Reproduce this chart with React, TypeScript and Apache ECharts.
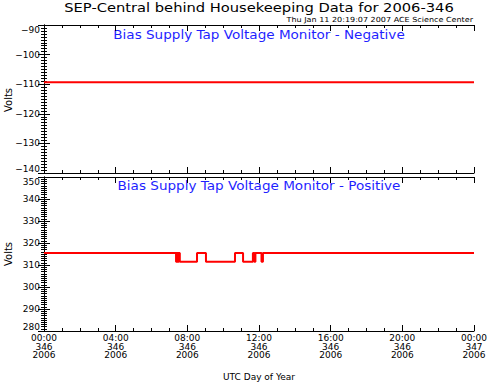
import React, { useEffect, useRef } from "react";
import * as echarts from "echarts";

// ---- data ----
const negTimes = [0, 24];
const negValues = [-109.3, -109.3];

const posTimes = [0, 7.37, 7.42, 7.47, 7.52, 7.58, 8.54, 9.04, 10.66, 11.11, 11.66, 11.74, 11.8, 12.14, 12.22, 24];
const posValues = [315.5, 311.5, 315.5, 311.5, 315.5, 311.5, 315.5, 311.5, 315.5, 311.5, 315.5, 311.5, 315.5, 311.5, 315.5, 315.5];

const xTickTimes = ["00:00", "04:00", "08:00", "12:00", "16:00", "20:00", "00:00"];
const xTickDays = ["346", "346", "346", "346", "346", "346", "347"];
const xTickYears = ["2006", "2006", "2006", "2006", "2006", "2006", "2006"];

const titleText = "SEP-Central behind Housekeeping Data for 2006-346";
const subtitleText = "Thu Jan 11 20:19:07 2007 ACE Science Center";
const panelTitles = ["Bias Supply Tap Voltage Monitor - Negative", "Bias Supply Tap Voltage Monitor - Positive"];
const yAxisTitle = "Volts";

const FONT = "DejaVu Sans, Verdana, sans-serif";
const BLUE = "#1f1fff";

export default function App() {
  const ref = useRef<HTMLDivElement>(null);
  useEffect(() => {
    document.body.style.margin = "0";
    const chart = echarts.init(ref.current!, undefined, { renderer: "svg" });
    const grids = [
      { left: 44, top: 25, width: 430, height: 148, outerBoundsMode: "none", containLabel: false },
      { left: 44, top: 177, width: 430, height: 154, outerBoundsMode: "none", containLabel: false },
    ];
    const baseAxisLine = { show: true, lineStyle: { color: "#000", width: 1 } };
    const mkX = (gi: number, pos: "bottom" | "top", labels: boolean) => ({
      type: "value",
      gridIndex: gi,
      position: pos,
      min: 0,
      max: 24,
      interval: 4,
      axisLine: baseAxisLine,
      axisTick: { show: true, inside: true, length: 6, lineStyle: { color: "#000" } },
      minorTick: { show: true, splitNumber: 4, length: 3, lineStyle: { color: "#000" } },
      splitLine: { show: false },
      axisLabel: labels
        ? {
            show: true,
            fontFamily: FONT,
            fontSize: 9,
            color: "#000",
            lineHeight: 8.5,
            margin: 3,
            formatter: (v: number) => {
              const i = Math.round(v / 4);
              return `${xTickTimes[i]}\n${xTickDays[i]}\n${xTickYears[i]}`;
            },
          }
        : { show: false },
      name: labels ? "UTC Day of Year" : "",
      nameLocation: "middle",
      nameGap: 41,
      nameTextStyle: { fontFamily: FONT, fontSize: 9, color: "#000" },
    });
    const mkY = (
      gi: number,
      pos: "left" | "right",
      min: number,
      max: number,
      labels: boolean,
      vMin: string,
      vMax: string
    ) => ({
      type: "value",
      gridIndex: gi,
      position: pos,
      min,
      max,
      interval: 10,
      axisLine: baseAxisLine,
      axisTick: { show: true, inside: true, length: 6, lineStyle: { color: "#000" } },
      minorTick: { show: true, splitNumber: 10, length: 3, lineStyle: { color: "#000" } },
      splitLine: { show: false },
      axisLabel: labels
        ? {
            show: true,
            fontFamily: FONT,
            fontSize: 9,
            color: "#000",
            margin: 4,
            verticalAlignMinLabel: vMin,
            verticalAlignMaxLabel: vMax,
            formatter: (v: number) => (v < 0 ? "\u2212" + Math.abs(v) : String(v)),
          }
        : { show: false },
    });
    const txt = (
      text: string,
      x: number,
      y: number,
      size: number,
      color: string,
      align: string,
      sx: number,
      vAlign = "top",
      rotation = 0
    ) => ({
      type: "text",
      x,
      y,
      scaleX: sx,
      rotation,
      style: {
        text,
        fontFamily: FONT,
        fontSize: size,
        fill: color,
        align,
        textAlign: align,
        verticalAlign: vAlign,
        textVerticalAlign: vAlign,
      },
    });
    chart.setOption({
      animation: false,
      backgroundColor: "#fff",
      graphic: [
        txt(titleText, 259, 1, 13, "#000", "center", 1.13),
        txt(subtitleText, 473, 16, 7, "#000", "right", 1.15),
        txt(panelTitles[0], 259, 29, 12, BLUE, "center", 1.13),
        txt(panelTitles[1], 259, 180, 12, BLUE, "center", 1.13),
        txt(yAxisTitle, 8, 100, 10, "#000", "center", 1, "middle", Math.PI / 2),
        txt(yAxisTitle, 8, 254, 10, "#000", "center", 1, "middle", Math.PI / 2),
      ],
      grid: grids,
      xAxis: [mkX(0, "bottom", false), mkX(0, "top", false), mkX(1, "bottom", true), mkX(1, "top", false)],
      yAxis: [
        mkY(0, "left", -140, -90, true, "bottom", "top"),
        mkY(0, "right", -140, -90, false, "middle", "middle"),
        mkY(1, "left", 280, 350, true, "bottom", "top"),
        mkY(1, "right", 280, 350, false, "middle", "middle"),
      ],
      series: [
        {
          type: "line",
          xAxisIndex: 0,
          yAxisIndex: 0,
          data: negTimes.map((t, i) => [t, negValues[i]]),
          showSymbol: false,
          lineStyle: { color: "#ff0000", width: 2 },
        },
        {
          type: "line",
          xAxisIndex: 2,
          yAxisIndex: 2,
          step: "end",
          data: posTimes.map((t, i) => [t, posValues[i]]),
          showSymbol: false,
          lineStyle: { color: "#ff0000", width: 2 },
        },
      ],
    });
    return () => chart.dispose();
  }, []);
  return <div ref={ref} style={{ position: "fixed", left: 0, top: 0, width: 487, height: 382 }} />;
}
